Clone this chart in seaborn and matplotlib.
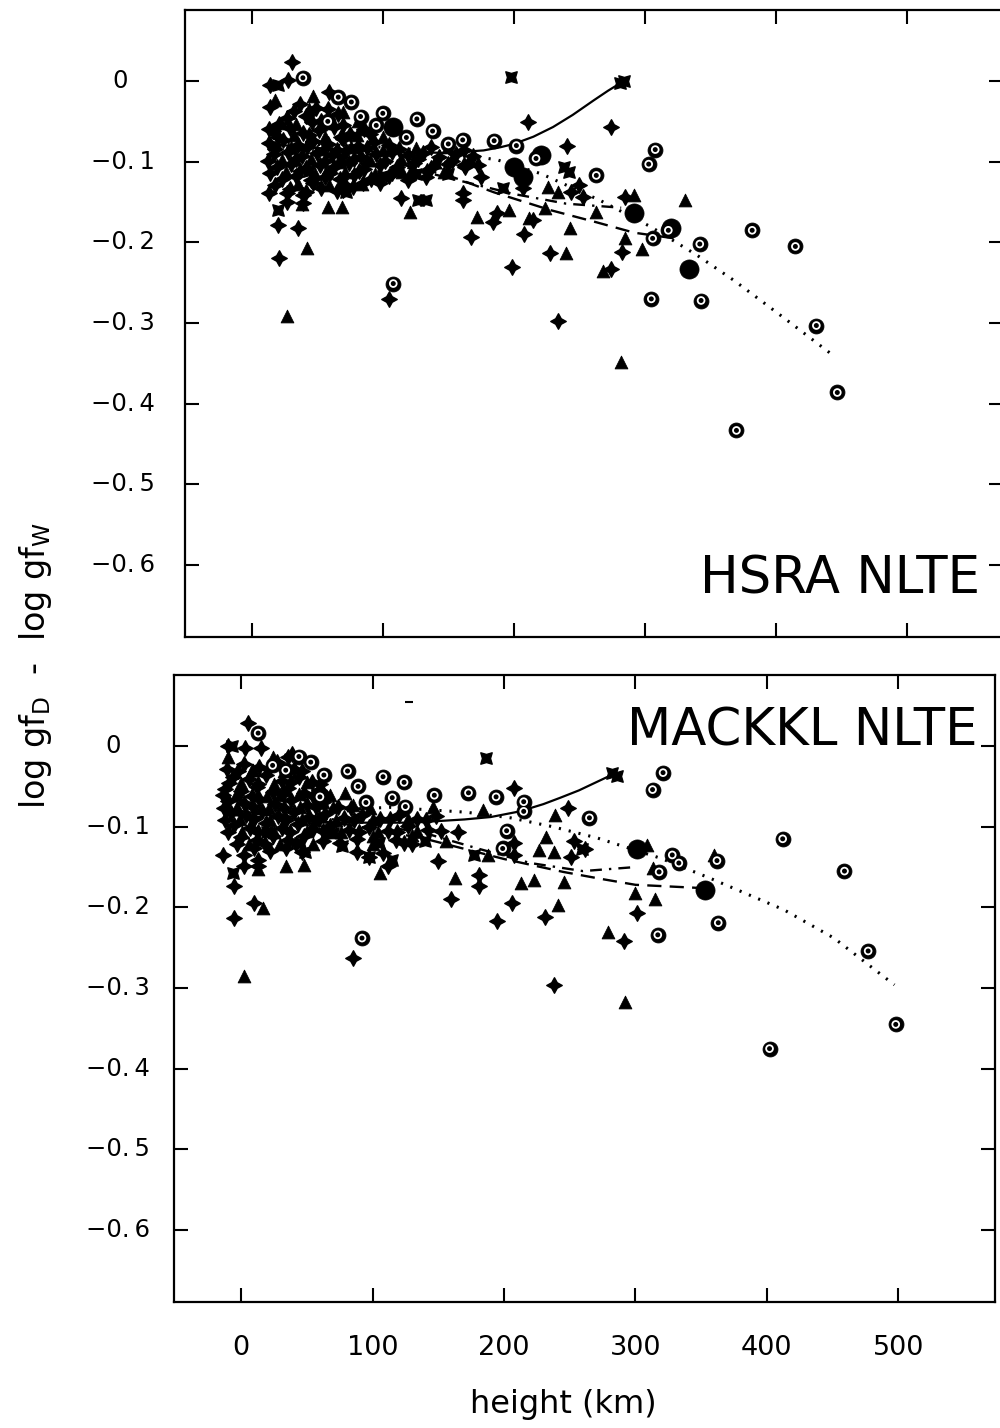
import matplotlib
matplotlib.use("Agg")
import matplotlib.pyplot as plt
import matplotlib.transforms as mtransforms
import pandas as pd
import seaborn as sns

# ---------------- data: upper panel (HSRA NLTE) ----------------
top_plus = [(37,-0.028),(49,-0.033),(27,-0.046),(41,-0.043),(53,-0.049),(66,-0.041),(16,-0.062),(29,-0.058),
            (39,-0.064),(51,-0.061),(63,-0.057),(75,-0.066),(86,-0.060),(13,-0.077),(24,-0.073),(35,-0.079),
            (47,-0.074),(58,-0.078),(70,-0.072),(81,-0.080),(93,-0.076),(105,-0.079),(17,-0.091),(28,-0.088),
            (38,-0.093),(50,-0.089),(61,-0.092),(72,-0.087),(83,-0.094),(95,-0.090),(107,-0.088),(119,-0.092),
            (131,-0.089),(143,-0.094),(156,-0.090),(169,-0.093),(19,-0.106),(30,-0.103),(41,-0.108),(52,-0.104),
            (63,-0.107),(74,-0.102),(86,-0.109),(98,-0.104),(111,-0.106),(124,-0.101),(137,-0.108),(150,-0.103),
            (163,-0.106),(23,-0.121),(34,-0.118),(45,-0.123),(56,-0.119),(67,-0.122),(78,-0.117),(91,-0.121),
            (105,-0.118),(119,-0.123),(133,-0.119),(29,-0.134),(41,-0.137),(53,-0.132),(65,-0.136),(77,-0.131),
            (32,-0.037),(58,-0.035),(21,-0.053),(46,-0.051),(70,-0.054),(20,-0.069),(44,-0.067),(68,-0.070),
            (90,-0.066),(18,-0.084),(42,-0.082),(65,-0.085),(88,-0.083),(112,-0.084),(137,-0.082),(162,-0.085),
            (12,-0.099),(34,-0.097),(56,-0.099),(78,-0.097),(102,-0.099),(127,-0.097),(153,-0.099),
            (14,-0.114),(37,-0.112),(60,-0.114),(82,-0.112),(107,-0.114),(134,-0.112),
            (18,-0.129),(47,-0.127),(71,-0.129),(98,-0.127),
            (31,0.023),(28,0.001),(59,-0.014),(13,-0.139),(27,-0.139),(27,-0.150),(39,-0.141),(39,-0.151),
            (20,-0.178),(35,-0.182),(21,-0.219),(105,-0.270),(85,-0.127),(114,-0.145),(161,-0.139),(161,-0.148),
            (167,-0.193),(211,-0.051),(241,-0.080),(199,-0.230),(234,-0.298),(184,-0.175),(187,-0.164),
            (208,-0.189),(228,-0.213),(207,-0.133),(250,-0.129),(253,-0.144),(244,-0.138),(162,-0.104),
            (173,-0.104),(175,-0.119),(14,-0.005),(14,-0.032),(13,-0.059),(70,-0.135),(274,-0.057),
            (283,-0.212),(274,-0.233),(285,-0.144),(215,-0.172)]
top_cross = [(44,-0.112),(68,-0.095),(100,-0.118),(125,-0.115),(150,-0.115),(198,0.005),(20,-0.160),
             (20,-0.005),(133,-0.148),(127,-0.148),(72,-0.138),(192,-0.133),(284,0.000),(281,-0.002),
             (238,-0.106),(242,-0.113)]
top_tri = [(22,-0.052),(45,-0.068),(33,-0.097),(57,-0.113),(88,-0.098),(115,-0.113),(140,-0.100),
           (44,-0.035),(70,-0.039),(34,-0.053),(58,-0.052),(81,-0.050),(32,-0.067),(56,-0.069),(80,-0.067),
           (100,-0.069),(30,-0.082),(54,-0.084),(76,-0.082),(100,-0.085),(125,-0.083),(150,-0.082),
           (23,-0.098),(45,-0.097),(67,-0.100),(90,-0.098),(114,-0.097),(140,-0.100),(166,-0.098),
           (26,-0.113),(48,-0.115),(71,-0.113),(94,-0.115),(121,-0.114),(147,-0.113),
           (35,-0.128),(59,-0.129),(84,-0.128),
           (27,-0.291),(42,-0.207),(38,-0.152),(58,-0.156),(69,-0.156),(121,-0.162),(172,-0.168),
           (196,-0.160),(212,-0.170),(224,-0.157),(243,-0.182),(240,-0.213),(226,-0.131),(234,-0.138),
           (263,-0.162),(18,-0.024),(47,-0.018),(83,-0.059),(331,-0.148),(282,-0.348),(285,-0.195),
           (298,-0.208),(268,-0.236),(292,-0.141)]
top_circ = [(58,-0.050),(95,-0.055),(118,-0.070),(150,-0.078),(39,0.004),(66,-0.020),(76,-0.026),
            (83,-0.044),(100,-0.040),(126,-0.047),(138,-0.062),(185,-0.074),(202,-0.080),(161,-0.073),
            (108,-0.251),(263,-0.117),(217,-0.096),(308,-0.085),(303,-0.103),(306,-0.195),(342,-0.202),
            (382,-0.185),(415,-0.205),(305,-0.270),(343,-0.272),(431,-0.303),(447,-0.386),(370,-0.433),
            (318,-0.185)]
top_dot = [(334,-0.233),(320,-0.182),(292,-0.164),(207,-0.119),(200,-0.106),(221,-0.092),(108,-0.057)]

top_solid = [(12,-0.078),(50,-0.083),(100,-0.088),(150,-0.089),(177,-0.086),(190,-0.082),(200,-0.078),
             (215,-0.069),(230,-0.057),(245,-0.042),(261,-0.024),(272,-0.012),(284,0.000)]
top_dotted = [(12,-0.076),(100,-0.082),(150,-0.088),(188,-0.098),(221,-0.115),(266,-0.148),(305,-0.181),
              (340,-0.216),(368,-0.247),(405,-0.292),(443,-0.339)]
top_dashdot = [(12,-0.080),(100,-0.100),(150,-0.120),(200,-0.140),(240,-0.152),(282,-0.157)]
top_dashed = [(12,-0.080),(100,-0.098),(150,-0.117),(185,-0.138),(228,-0.160),(263,-0.175),(292,-0.188),
              (327,-0.196)]

# ---------------- data: lower panel (MACKKL NLTE) ----------------
bot_plus = [(2,-0.022),(14,-0.026),(27,-0.020),(40,-0.028),(-6,-0.038),(6,-0.041),(19,-0.036),(31,-0.043),
            (44,-0.038),(54,-0.045),(-12,-0.053),(0,-0.056),(12,-0.051),(24,-0.057),(36,-0.052),(48,-0.058),
            (59,-0.054),(-10,-0.068),(2,-0.071),(14,-0.066),(26,-0.072),(38,-0.067),(50,-0.073),(62,-0.069),
            (74,-0.075),(-8,-0.083),(4,-0.086),(16,-0.081),(28,-0.087),(40,-0.082),(52,-0.088),(64,-0.084),
            (78,-0.089),(92,-0.085),(106,-0.090),(120,-0.086),(134,-0.091),(148,-0.087),(-5,-0.098),(7,-0.101),
            (19,-0.096),(31,-0.102),(43,-0.097),(55,-0.103),(68,-0.099),(82,-0.104),(97,-0.100),(112,-0.105),
            (127,-0.099),(142,-0.104),(0,-0.113),(12,-0.116),(24,-0.111),(36,-0.117),(48,-0.112),(62,-0.118),
            (88,-0.115),(118,-0.117),(10,-0.127),(22,-0.130),(34,-0.126),(46,-0.131),
            (-2,-0.031),(21,-0.029),(46,-0.031),(-9,-0.046),(13,-0.047),(38,-0.045),(60,-0.047),
            (-14,-0.061),(8,-0.062),(32,-0.060),(55,-0.062),(-13,-0.077),(9,-0.076),(33,-0.077),(57,-0.075),
            (84,-0.077),(-12,-0.092),(10,-0.091),(34,-0.092),(59,-0.090),(86,-0.092),(113,-0.091),(141,-0.092),
            (-10,-0.107),(13,-0.106),(37,-0.107),(62,-0.105),(90,-0.107),(119,-0.106),
            (-3,-0.122),(18,-0.121),(42,-0.122),(75,-0.120),(130,-0.122),
            (5,0.029),(15,-0.003),(36,-0.013),(-11,-0.029),(-14,-0.135),(2,-0.135),(2,-0.149),(13,-0.141),
            (13,-0.149),(-5,-0.174),(10,-0.195),(-5,-0.213),(85,-0.263),(238,-0.296),(208,-0.052),
            (249,-0.077),(152,-0.105),(165,-0.106),(150,-0.143),(181,-0.160),(181,-0.174),(160,-0.190),
            (195,-0.217),(206,-0.195),(231,-0.212),(208,-0.120),(208,-0.135),(253,-0.118),(251,-0.138),
            (62,-0.058),(88,-0.131),(97,-0.137),(108,-0.132),(112,-0.149),(124,-0.120),(39,-0.010),
            (-10,0.000),(3,-0.002),(262,-0.128),(301,-0.207),(291,-0.242)]
bot_cross = [(20,-0.107),(45,-0.120),(70,-0.108),(105,-0.120),(140,-0.118),(186,-0.015),(-6,-0.157),
             (49,-0.131),(77,-0.124),(177,-0.135),(97,-0.138),(115,-0.141),(259,-0.128),(286,-0.037),
             (282,-0.034),(-7,0.000)]
bot_tri = [(8,-0.030),(30,-0.061),(56,-0.092),(85,-0.073),(100,-0.112),(130,-0.110),
           (9,-0.030),(33,-0.031),(0,-0.046),(25,-0.047),(50,-0.045),(-4,-0.061),(20,-0.062),(44,-0.060),
           (68,-0.061),(-3,-0.076),(21,-0.077),(45,-0.076),(70,-0.075),(98,-0.077),(-1,-0.091),(22,-0.092),
           (46,-0.090),(72,-0.092),(100,-0.091),(127,-0.090),(1,-0.106),(25,-0.107),(50,-0.105),(76,-0.107),
           (104,-0.106),(134,-0.105),(6,-0.121),(30,-0.122),(55,-0.121),(100,-0.121),
           (2,-0.285),(17,-0.201),(13,-0.153),(34,-0.149),(48,-0.147),(106,-0.157),(163,-0.163),
           (241,-0.197),(246,-0.168),(213,-0.170),(223,-0.166),(232,-0.113),(238,-0.131),(239,-0.086),
           (146,-0.076),(184,-0.079),(227,-0.129),(68,-0.106),(-10,-0.014),(24,-0.013),(79,-0.058),
           (62,-0.069),(279,-0.230),(292,-0.317),(300,-0.182),(315,-0.189),(309,-0.123),(313,-0.151),
           (360,-0.135),(156,-0.118),(188,-0.135)]
bot_circ = [(60,-0.063),(95,-0.070),(125,-0.075),(13,0.016),(44,-0.013),(53,-0.020),(63,-0.036),(81,-0.031),
            (108,-0.038),(124,-0.045),(147,-0.061),(24,-0.024),(34,-0.030),(89,-0.050),(115,-0.064),
            (92,-0.238),(173,-0.058),(194,-0.063),(215,-0.069),(215,-0.081),(202,-0.105),(199,-0.127),
            (265,-0.089),(321,-0.033),(313,-0.054),(412,-0.115),(459,-0.155),(328,-0.135),(333,-0.145),
            (318,-0.156),(362,-0.142),(363,-0.219),(317,-0.234),(477,-0.254),(498,-0.345),(402,-0.375)]
bot_dot = [(353,-0.179),(301,-0.128)]
bot_dash = [(128,0.054)]

bot_solid = [(-10,-0.078),(30,-0.088),(70,-0.095),(130,-0.095),(170,-0.091),(190,-0.088),(212,-0.081),
             (230,-0.072),(243,-0.064),(257,-0.055),(270,-0.045),(283,-0.035)]
bot_dotted = [(-10,-0.085),(60,-0.080),(113,-0.076),(171,-0.082),(205,-0.089),(237,-0.100),(271,-0.114),
              (319,-0.139),(357,-0.164),(413,-0.203),(451,-0.238),(497,-0.296)]
bot_dashdot = [(-10,-0.082),(80,-0.092),(140,-0.108),(180,-0.127),(220,-0.145),(260,-0.155),(300,-0.150)]
bot_dashed = [(-10,-0.085),(80,-0.097),(140,-0.115),(200,-0.140),(245,-0.156),(275,-0.165),(300,-0.172),
              (350,-0.176)]

# ---------------- axes / labels ----------------
x_ticks = [0, 100, 200, 300, 400, 500]
x_ticklabels = ["0", "100", "200", "300", "400", "500"]
y_ticks = [0, -0.1, -0.2, -0.3, -0.4, -0.5, -0.6]
y_ticklabels = ["0", "\u22120.\u20091", "\u22120.\u20092", "\u22120.\u20093", "\u22120.\u20094",
                "\u22120.\u20095", "\u22120.\u20096"]
panel_titles = ["HSRA NLTE", "MACKKL NLTE"]
x_title = "height (km)"
y_title = r"log gf$_\mathregular{D}$  -  log gf$_\mathregular{W}$"

sns.set_theme(style="ticks")
plt.rcParams['font.family'] = ['DejaVu Sans']
plt.rcParams['mathtext.fontset'] = 'dejavusans'
for key in ("text.color", "axes.labelcolor", "xtick.color", "ytick.color", "axes.edgecolor"):
    plt.rcParams[key] = "black"

fig = plt.figure(figsize=(10, 14.28), dpi=100)
ax_top = fig.add_axes([0.185, 1 - 637 / 1428, 0.818, 627 / 1428])
ax_bot = fig.add_axes([0.174, 1 - 1302 / 1428, 0.821, 627 / 1428])


def df(pts):
    return pd.DataFrame(pts, columns=["h", "d"])


def draw(ax, plus, cross, tri, circ, dot, lines):
    for pts, ls, lw in lines:
        sns.lineplot(data=df(pts), x="h", y="d", ax=ax, sort=False, estimator=None, color="black",
                     linestyle=ls, linewidth=lw, zorder=3)
    sns.scatterplot(data=df(plus), x="h", y="d", ax=ax, marker=(4, 1, 0), s=125, color="black",
                    edgecolor="black", linewidth=1.0, zorder=4)
    sns.scatterplot(data=df(cross), x="h", y="d", ax=ax, marker=(4, 1, 45), s=135, color="black",
                    edgecolor="black", linewidth=1.0, zorder=4)
    sns.scatterplot(data=df(tri), x="h", y="d", ax=ax, marker="^", s=85, color="black",
                    edgecolor="black", linewidth=0.6, zorder=4)
    sns.scatterplot(data=df(circ), x="h", y="d", ax=ax, marker="o", s=115, color="black",
                    edgecolor="black", linewidth=0.6, zorder=4)
    sns.scatterplot(data=df(circ), x="h", y="d", ax=ax, marker="o", s=24, facecolor="none",
                    edgecolor="white", linewidth=1.3, zorder=5)
    sns.scatterplot(data=df(dot), x="h", y="d", ax=ax, marker="o", s=190, color="black",
                    edgecolor="black", linewidth=0.5, zorder=4)


draw(ax_top, top_plus, top_cross, top_tri, top_circ, top_dot,
     [(top_solid, "-", 1.6), (top_dotted, (0, (0.7, 2.6)), 2.2), (top_dashdot, (0, (5, 3, 1, 3)), 1.7),
      (top_dashed, (0, (6, 3.5)), 1.7)])
draw(ax_bot, bot_plus, bot_cross, bot_tri, bot_circ, bot_dot,
     [(bot_solid, "-", 1.6), (bot_dotted, (0, (0.7, 2.6)), 2.2), (bot_dashdot, (0, (5, 3, 1, 3)), 1.7),
      (bot_dashed, (0, (6, 3.5)), 1.7)])
sns.scatterplot(data=df(bot_dash), x="h", y="d", ax=ax_bot, marker="_", s=40, color="black",
                linewidth=1.5, zorder=4)

label_pos = {ax_top: (-0.0795, -0.0367), ax_bot: (-0.0743, -0.0292)}
for ax in (ax_top, ax_bot):
    ax.set_xlim(-51, 573.5)
    ax.set_ylim(-0.689, 0.088)
    ax.set_xticks(x_ticks)
    ax.set_yticks(y_ticks)
    ax.tick_params(direction="in", length=10, width=1.5, top=True, right=True,
                   labelleft=False, labelbottom=False, color="black")
    for sp in ax.spines.values():
        sp.set_linewidth(1.6)
        sp.set_color("black")
    ax.set_xlabel("")
    ax.set_ylabel("")
    ax.grid(False)
    tr = mtransforms.blended_transform_factory(ax.transAxes, ax.transData)
    x0, x1 = label_pos[ax]
    for v, lab in zip(y_ticks, y_ticklabels):
        if v == 0:
            ax.text(x0, v, lab, transform=tr, ha="center", va="center", fontsize=17.5, color="black")
        else:
            ax.text(x1, v, lab, transform=tr, ha="right", va="center", fontsize=17.5, color="black")

ax_bot.tick_params(labelbottom=True, pad=24, labelsize=19.5, labelcolor="black")
ax_bot.set_xticklabels(x_ticklabels)

ax_top.text(0.972, 0.0686, panel_titles[0], transform=ax_top.transAxes, ha="right", va="baseline",
            fontsize=37, color="black")
ax_bot.text(0.979, 0.888, panel_titles[1], transform=ax_bot.transAxes, ha="right", va="baseline",
            fontsize=37, color="black")

fig.text(0.563, 1 - 1405 / 1428, x_title, ha="center", va="center", fontsize=23, color="black")
fig.text(0.036, 1 - 665 / 1428, y_title, ha="center", va="center", rotation=90, fontsize=24,
         color="black")

fig.savefig("out.png", dpi=100, facecolor="white")
